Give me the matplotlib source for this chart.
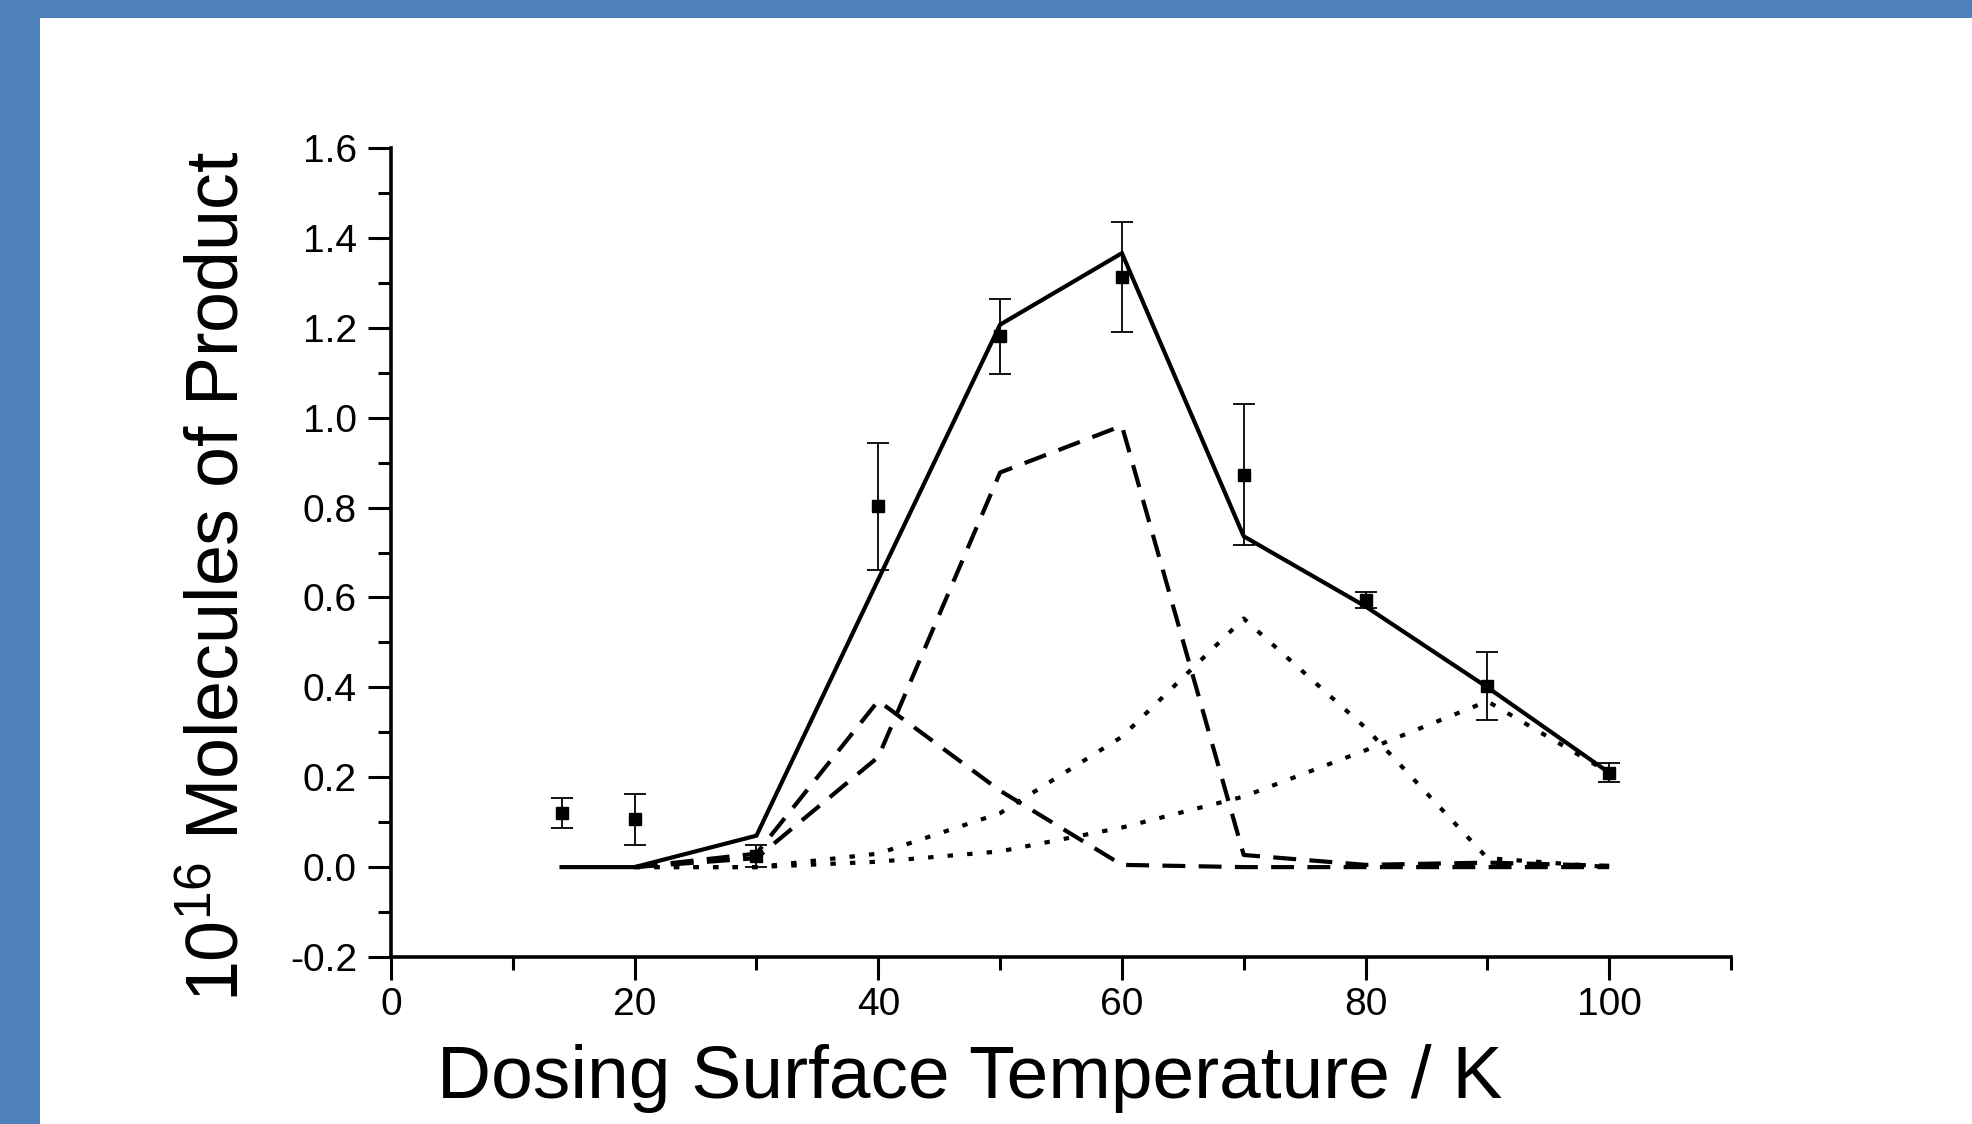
import matplotlib
matplotlib.use("Agg")
import matplotlib.pyplot as plt
from matplotlib.patches import Rectangle
from matplotlib.ticker import MultipleLocator

plt.rcParams["font.family"] = ["Liberation Sans", "DejaVu Sans"]
plt.rcParams["mathtext.fontset"] = "custom"
plt.rcParams["mathtext.rm"] = "Liberation Sans"
plt.rcParams["mathtext.it"] = "Liberation Sans"

# measured points with error bars
temps = [14, 20, 30, 40, 50, 60, 70, 80, 90, 100]
measured = [0.12, 0.106, 0.025, 0.803, 1.181, 1.313, 0.873, 0.594, 0.403, 0.21]
errors = [0.033, 0.056, 0.024, 0.141, 0.084, 0.123, 0.157, 0.018, 0.075, 0.021]

# total fit (solid)
fit_temps = [14, 20, 30, 40, 50, 60, 70, 80, 90, 100]
fit_total = [0.0, 0.0, 0.07, 0.64, 1.207, 1.366, 0.736, 0.58, 0.40, 0.21]

# component curves
comp_temps = [20, 30, 40, 50, 60, 70, 80, 90, 100]
dash_a = [0.0, 0.03, 0.37, 0.17, 0.005, 0.0, 0.0, 0.0, 0.0]
dash_b = [0.0, 0.02, 0.245, 0.878, 0.982, 0.027, 0.005, 0.01, 0.003]
dot_c = [0.0, 0.0, 0.03, 0.12, 0.29, 0.553, 0.31, 0.02, 0.0]
dot_d = [0.0, 0.0, 0.012, 0.035, 0.088, 0.157, 0.26, 0.369, 0.21]

fig = plt.figure(figsize=(19.72, 11.24), dpi=100)
fig.patch.set_facecolor("#4F81BD")

# white slide area inside the blue frame
bg = fig.add_axes([0, 0, 1, 1], zorder=-10)
bg.axis("off")
bg.add_patch(Rectangle((40 / 1972, 0), 1, 1 - 18 / 1124, transform=bg.transAxes,
                       facecolor="white", edgecolor="none"))

ax = fig.add_axes([391 / 1972, 1 - 957 / 1124, 1340 / 1972, 809 / 1124])
ax.set_facecolor("none")

ax.plot(fit_temps, fit_total, color="black", lw=3.0, solid_joinstyle="miter")
ax.plot(comp_temps, dash_a, color="black", lw=3.0, linestyle=(0, (5.5, 3.2)))
ax.plot(comp_temps, dash_b, color="black", lw=3.0, linestyle=(0, (5.5, 3.2)))
ax.plot(comp_temps, dot_c, color="black", lw=3.0, linestyle=(0, (1.3, 3.4)))
ax.plot(comp_temps, dot_d, color="black", lw=3.0, linestyle=(0, (1.3, 3.4)))
ax.errorbar(temps, measured, yerr=errors, fmt="s", color="black", ms=8.5,
            elinewidth=1.3, capsize=8, capthick=1.3)

ax.set_xlim(0, 110)
ax.set_ylim(-0.2, 1.6)
ax.set_xticks([0, 20, 40, 60, 80, 100])
ax.set_yticks([-0.2, 0.0, 0.2, 0.4, 0.6, 0.8, 1.0, 1.2, 1.4, 1.6])
ax.set_yticklabels(["-0.2", "0.0", "0.2", "0.4", "0.6", "0.8", "1.0", "1.2", "1.4", "1.6"])
ax.xaxis.set_minor_locator(MultipleLocator(10))
ax.yaxis.set_minor_locator(MultipleLocator(0.1))

for side in ["top", "right"]:
    ax.spines[side].set_visible(False)
for side in ["left", "bottom"]:
    ax.spines[side].set_linewidth(2.6)

ax.tick_params(which="major", direction="out", length=16.5, width=2.2, labelsize=28)
ax.tick_params(which="minor", direction="out", length=9.4, width=2.2)
ax.tick_params(axis="y", which="major", pad=8)
ax.tick_params(axis="x", which="major", pad=5)

ax.set_xlabel("Dosing Surface Temperature / K", fontsize=54)
ax.set_ylabel("10$^{16}$ Molecules of Product", fontsize=53)
ax.xaxis.set_label_coords(0.432, -0.107)
ax.yaxis.set_label_coords(-0.103, 0.471)

fig.savefig("out.png", dpi=100, facecolor=fig.get_facecolor())
